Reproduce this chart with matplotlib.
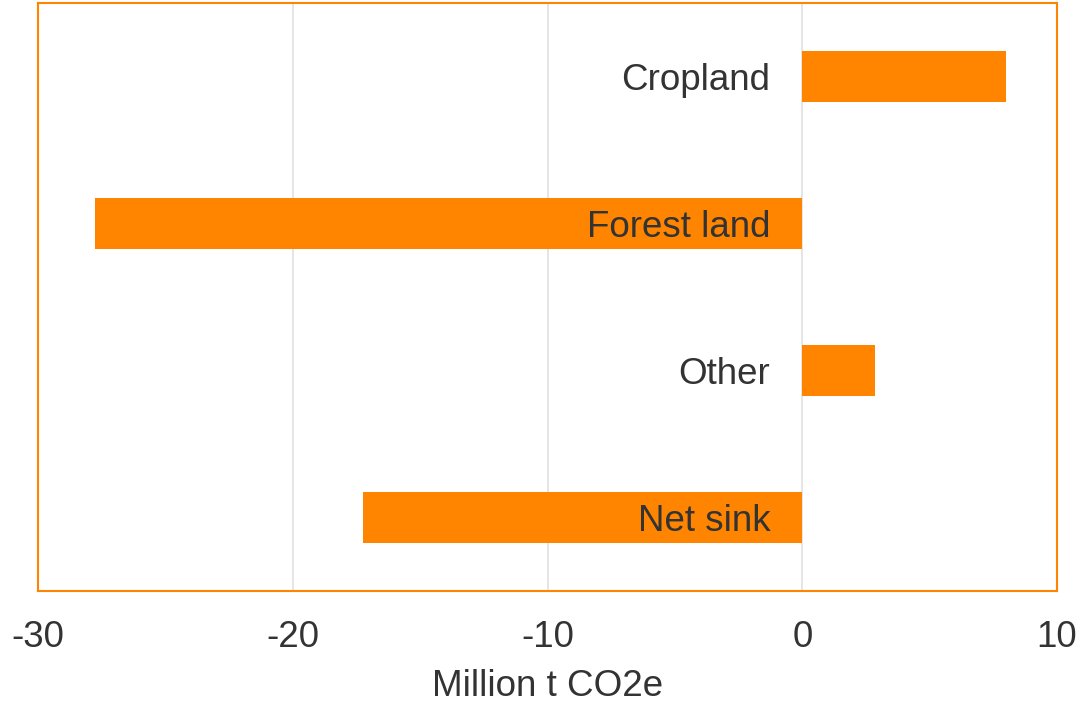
import matplotlib
matplotlib.use("Agg")
import matplotlib.pyplot as plt

categories = ["Cropland", "Forest land", "Other", "Net sink"]
values = [8.0, -27.75, 2.85, -17.25]
xticks = [-30, -20, -10, 0, 10]

plt.rcParams['font.family'] = ['Liberation Sans', 'DejaVu Sans']
orange = "#FF8400"
text_col = "#333333"
fs = 26.5

fig = plt.figure(figsize=(10.82, 7.04), dpi=100)
ax = fig.add_axes([38/1082, 1-591/704, (1057-38)/1082, (591-3)/704])

ypos = list(range(len(categories)))
ax.barh(ypos, values, height=0.35, color=orange, zorder=3)
for y, lab in zip(ypos, categories):
    ax.text(-1.25, y + 0.025, lab, ha="right", va="center", fontsize=fs,
            color=text_col, zorder=4)

ax.set_xlim(-30, 10)
ax.set_ylim(3.5, -0.5)
ax.set_xticks(xticks)
ax.set_xticklabels([str(t) for t in xticks], fontsize=fs, color=text_col)
ax.set_yticks([])
ax.tick_params(axis="x", length=0, pad=21)
ax.grid(axis="x", color="#e0e0e0", linewidth=1.2, zorder=0)
ax.set_axisbelow(True)
for s in ax.spines.values():
    s.set_color(orange)
    s.set_linewidth(1.5)
ax.set_xlabel("Million t CO2e", fontsize=fs, color=text_col, labelpad=10)

fig.savefig("out.png", dpi=100)
